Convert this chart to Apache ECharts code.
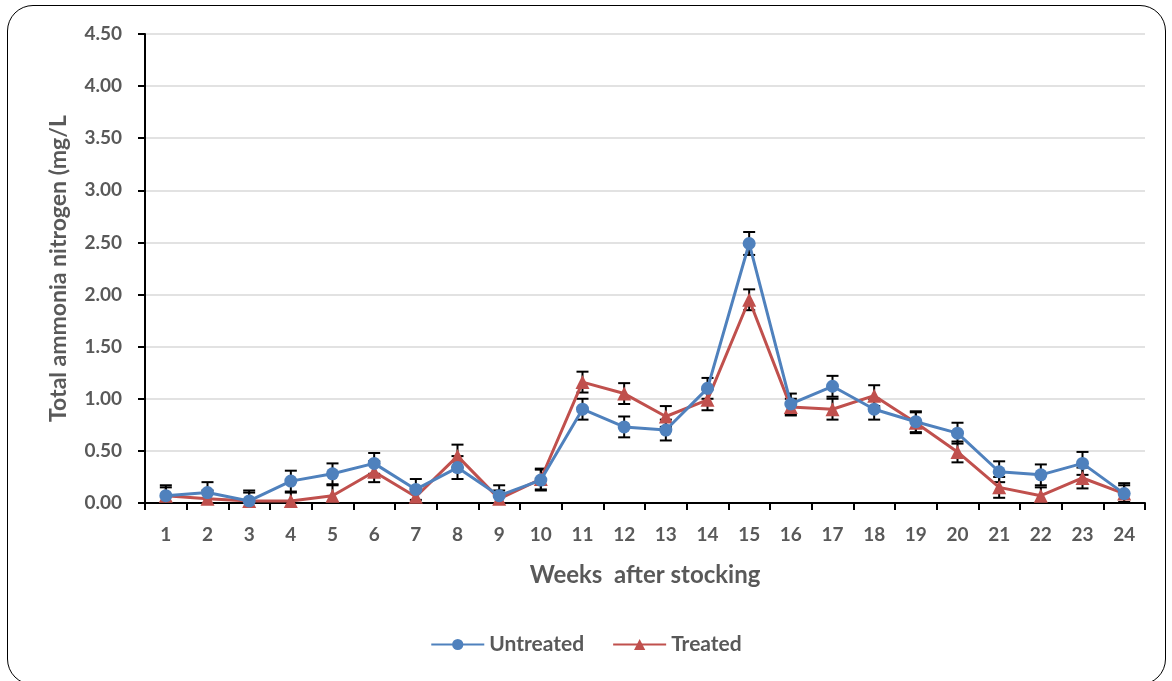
<!DOCTYPE html>
<html><head><meta charset="utf-8">
<script src="https://cdn.jsdelivr.net/npm/echarts@6/dist/echarts.min.js"></script>
<style>
html,body{margin:0;padding:0;background:#fff;}
#frame{position:absolute;left:7px;top:5px;width:1159px;height:680px;border:1.5px solid #000;border-radius:26px;box-sizing:border-box;}
#c{position:absolute;left:0;top:0;width:1172px;height:681px;}
</style></head>
<body>
<div id="frame"></div>
<div id="c"></div>
<script>
const weeks = ['1','2','3','4','5','6','7','8','9','10','11','12','13','14','15','16','17','18','19','20','21','22','23','24'];
const untreated = [0.07,0.10,0.02,0.21,0.28,0.38,0.13,0.34,0.07,0.22,0.90,0.73,0.70,1.10,2.49,0.95,1.12,0.90,0.78,0.67,0.30,0.27,0.38,0.09];
const untreatedErr = [0.10,0.10,0.10,0.10,0.10,0.10,0.10,0.11,0.10,0.10,0.10,0.10,0.10,0.10,0.11,0.10,0.10,0.10,0.10,0.10,0.10,0.10,0.11,0.10];
const treated = [0.07,0.04,0.02,0.02,0.07,0.30,0.06,0.45,0.04,0.23,1.16,1.05,0.83,0.99,1.95,0.92,0.90,1.03,0.77,0.49,0.15,0.07,0.24,0.09];
const treatedErr = [0.08,0.08,0.08,0.08,0.10,0.10,0.08,0.11,0.08,0.10,0.10,0.10,0.10,0.10,0.10,0.08,0.10,0.10,0.10,0.10,0.10,0.08,0.10,0.08];
const yTicks = [0,0.5,1,1.5,2,2.5,3,3.5,4,4.5];

const FONT = 'Lato, "Liberation Sans", sans-serif';
const GRAY = '#595959';

function errSeries(vals, errs){
  const data = vals.map((v,i)=>[i, v-errs[i], v+errs[i]]);
  return {
    type:'custom', z:1, silent:true,
    data: data,
    renderItem:function(params, api){
      const x = api.value(0);
      const loVal = api.value(1);
      const lo = api.coord([x, Math.max(0, loVal)]);
      const hi = api.coord([x, api.value(2)]);
      const w = 6;
      const st = {stroke:'#000', lineWidth:2};
      const kids = [
        {type:'line', shape:{x1:lo[0],y1:lo[1],x2:hi[0],y2:hi[1]}, style:st},
        {type:'line', shape:{x1:hi[0]-w,y1:hi[1],x2:hi[0]+w,y2:hi[1]}, style:st}
      ];
      if (loVal >= 0) kids.push({type:'line', shape:{x1:lo[0]-w,y1:lo[1],x2:lo[0]+w,y2:lo[1]}, style:st});
      return {type:'group', children:kids};
    }
  };
}

const chart = echarts.init(document.getElementById('c'));
chart.setOption({
  animation:false,
  backgroundColor:'transparent',
  grid:{left:145, right:27, top:34, bottom:178},
  legend:{
    bottom:21, left:'center', itemWidth:53, itemHeight:14, itemGap:28,
    textStyle:{fontFamily:FONT, fontWeight:'bold', fontSize:21, color:GRAY},
    data:['Untreated','Treated']
  },
  xAxis:{
    type:'category', data:weeks, boundaryGap:true,
    name:'Weeks  after stocking', nameLocation:'middle', nameGap:60,
    nameTextStyle:{fontFamily:FONT, fontWeight:'bold', fontSize:24, color:GRAY},
    axisLine:{lineStyle:{color:'#000', width:2}},
    axisTick:{show:true, alignWithLabel:false, length:7, lineStyle:{color:'#000', width:2}},
    axisLabel:{fontFamily:FONT, fontWeight:'bold', fontSize:19, color:GRAY, margin:22}
  },
  yAxis:{
    type:'value', min:0, max:4.5, interval:0.5,
    name:'Total ammonia nitrogen (mg/L', nameLocation:'middle', nameGap:75, nameRotate:90,
    nameTextStyle:{fontFamily:FONT, fontWeight:'bold', fontSize:23, color:GRAY},
    axisLine:{show:true, lineStyle:{color:'#000', width:2}},
    axisTick:{show:true, length:7, lineStyle:{color:'#000', width:2}},
    axisLabel:{fontFamily:FONT, fontWeight:'bold', fontSize:19, color:GRAY, margin:23,
      formatter:function(v){return v.toFixed(2);}},
    splitLine:{lineStyle:{color:'#d9d9d9', width:1.5}}
  },
  series:[
    errSeries(untreated, untreatedErr),
    errSeries(treated, treatedErr),
    {name:'Untreated', type:'line', z:3, data:untreated, symbol:'circle', symbolSize:13,
      lineStyle:{color:'#4f81bd', width:3}, itemStyle:{color:'#4f81bd'}},
    {name:'Treated', type:'line', z:2, data:treated, symbol:'triangle', symbolSize:14,
      lineStyle:{color:'#c0504d', width:3}, itemStyle:{color:'#c0504d'}}
  ]
});
</script>
</body></html>
